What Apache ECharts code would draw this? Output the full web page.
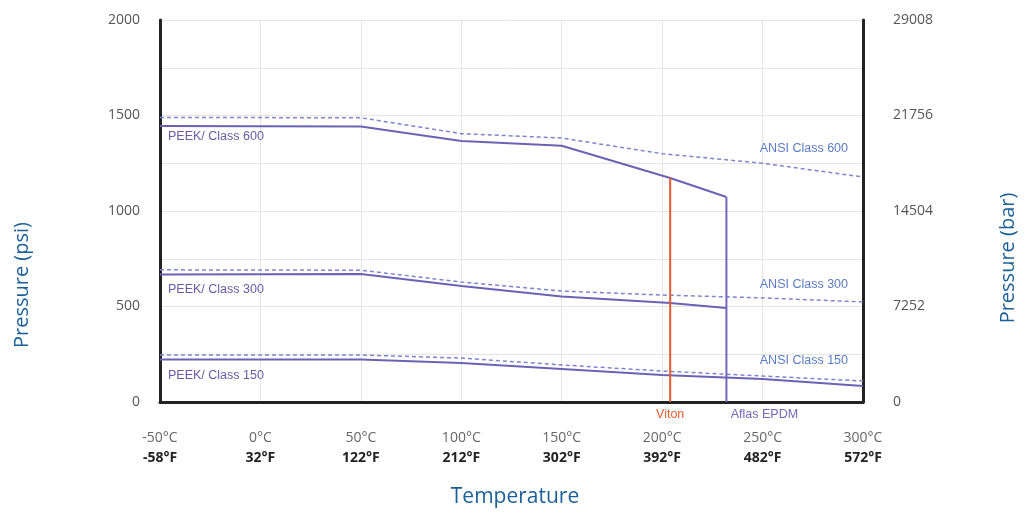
<!DOCTYPE html>
<html>
<head>
<meta charset="utf-8">
<script src="https://cdn.jsdelivr.net/npm/echarts@6/dist/echarts.min.js"></script>
<style>
html,body{margin:0;padding:0;background:#fff;}
#chart{width:1029px;height:514px;}
</style>
</head>
<body>
<div id="chart"></div>
<script>
// ---- data ----
const tempC = [-50, 0, 50, 100, 150, 200, 250, 300];
const tempF = ['-58°F', '32°F', '122°F', '212°F', '302°F', '392°F', '482°F', '572°F'];
const psiTicks = [0, 500, 1000, 1500, 2000];
const barTicks = ['0', '7252', '14504', '21756', '29008'];

const peek600T = [-50, 50, 100, 150, 204, 232];
const peek600P = [1445, 1442, 1366, 1342, 1173, 1073];
const ansi600T = [-50, 50, 100, 150, 200, 250, 300];
const ansi600P = [1490, 1488, 1405, 1382, 1300, 1250, 1178];

const peek300T = [-50, 50, 100, 150, 204, 232];
const peek300P = [668, 670, 607, 552, 518, 492];
const ansi300T = [-50, 50, 100, 150, 200, 250, 300];
const ansi300P = [692, 690, 628, 581, 560, 545, 524];

const peek150T = [-50, 50, 100, 150, 200, 250, 300];
const peek150P = [222, 222, 204, 173, 141, 120, 84];
const ansi150T = [-50, 50, 100, 150, 200, 250, 300];
const ansi150P = [246, 246, 230, 194, 162, 136, 110];

const vitonT = [204, 204];
const vitonP = [1173, 0];
const aflasT = [232, 232];
const aflasP = [1073, 0];

const names = {
  peek600: 'PEEK/ Class 600', peek300: 'PEEK/ Class 300', peek150: 'PEEK/ Class 150',
  ansi600: 'ANSI Class 600', ansi300: 'ANSI Class 300', ansi150: 'ANSI Class 150',
  viton: 'Viton', aflas: 'Aflas EPDM'
};

// ---- helpers ----
const zip = (t, p) => t.map((x, i) => [x, p[i]]);
const solidColor = '#6b62b5';
const dashColor = '#7c86cc';
const lblFont = '"Liberation Sans Narrow","Liberation Sans",sans-serif';
const lblSize = 12.5;

function withLabel(data, idx, label) {
  return data.map((d, i) => i === idx ? { value: d, label: Object.assign({ show: true }, label) } : { value: d });
}

function peekSeries(name, t, p, dy) {
  return {
    name, type: 'line', data: withLabel(zip(t, p), 0, {
      formatter: name, position: [8, dy], align: 'left', verticalAlign: 'top',
      color: '#6a5aa8', fontSize: lblSize, fontFamily: lblFont
    }),
    symbol: 'circle', symbolSize: 0, showSymbol: true, silent: true, z: 4,
    lineStyle: { color: solidColor, width: 2 }, itemStyle: { color: solidColor }
  };
}
function ansiSeries(name, t, p, dy) {
  return {
    name, type: 'line', data: withLabel(zip(t, p), t.length - 1, {
      formatter: name, position: [-15, dy], align: 'right', verticalAlign: 'middle',
      color: '#5a7cc4', fontSize: lblSize, fontFamily: lblFont
    }),
    symbol: 'circle', symbolSize: 0, showSymbol: true, silent: true, z: 3,
    lineStyle: { color: dashColor, width: 1.5, type: [4, 3] }, itemStyle: { color: dashColor }
  };
}
function vertSeries(name, t, p, color, dx) {
  return {
    name, type: 'line', data: withLabel(zip(t, p), 1, {
      formatter: name, position: [dx, 13], align: 'center', verticalAlign: 'middle',
      color: color, fontSize: lblSize, fontFamily: lblFont
    }),
    symbol: 'circle', symbolSize: 0, showSymbol: true, silent: true, z: 5, clip: false,
    lineStyle: { color: color, width: 2 }, itemStyle: { color: color }
  };
}

const chart = echarts.init(document.getElementById('chart'));
const titleColor = '#1b5f98';
chart.setOption({
  animation: false,
  backgroundColor: '#fff',
  grid: { left: 160, right: 166, top: 20, bottom: 112 },
  xAxis: {
    type: 'value', min: -50, max: 300, interval: 50,
    axisLine: { show: true, onZero: false, lineStyle: { color: '#222', width: 3 } },
    axisTick: { show: false },
    splitLine: { show: true, lineStyle: { color: '#e4e4e4', width: 1 } },
    axisLabel: {
      margin: 26,
      formatter: v => {
        const i = tempC.indexOf(v);
        return '{c|' + v + '°C}\n{f|' + tempF[i] + '}';
      },
      rich: {
        c: { fontSize: 14, color: '#666', lineHeight: 20, fontFamily: '"Open Sans",sans-serif' },
        f: { fontSize: 14, color: '#222', fontWeight: 'bold', lineHeight: 20, fontFamily: '"Open Sans",sans-serif' }
      }
    }
  },
  yAxis: [{
    type: 'value', min: psiTicks[0], max: psiTicks[psiTicks.length - 1], interval: 500,
    axisLine: { show: true, onZero: false, lineStyle: { color: '#222', width: 3 } },
    axisTick: { show: false },
    splitLine: { show: true, lineStyle: { color: '#e4e4e4', width: 1 } },
    minorTick: { show: false, splitNumber: 2 },
    minorSplitLine: { show: true, lineStyle: { color: '#e4e4e4', width: 1 } },
    axisLabel: { margin: 20, color: '#555', fontSize: 14, fontFamily: '"Open Sans",sans-serif',
      formatter: v => String(v) }
  }, {
    type: 'value', min: 0, max: 29008, interval: 7252, position: 'right',
    axisLine: { show: true, onZero: false, lineStyle: { color: '#222', width: 3 } },
    axisTick: { show: false },
    splitLine: { show: false },
    axisLabel: {
      margin: 30, color: '#555', fontSize: 14, fontFamily: '"Open Sans",sans-serif',
      formatter: v => barTicks[Math.round(v / 7252)]
    }
  }],
  graphic: [
    { type: 'text', x: 22, y: 285, rotation: Math.PI / 2,
      style: { text: 'Pressure (psi)', fill: titleColor, fontSize: 20, fontFamily: '"Open Sans",sans-serif', align: 'center', verticalAlign: 'middle' } },
    { type: 'text', x: 1008, y: 258, rotation: Math.PI / 2,
      style: { text: 'Pressure (bar)', fill: titleColor, fontSize: 20, fontFamily: '"Open Sans",sans-serif', align: 'center', verticalAlign: 'middle' } },
    { type: 'text', x: 515, y: 497,
      style: { text: 'Temperature', fill: titleColor, fontSize: 21, fontFamily: '"Open Sans",sans-serif', align: 'center', verticalAlign: 'middle' } }
  ],
  series: [
    ansiSeries(names.ansi600, ansi600T, ansi600P, -28),
    ansiSeries(names.ansi300, ansi300T, ansi300P, -17),
    ansiSeries(names.ansi150, ansi150T, ansi150P, -20),
    peekSeries(names.peek600, peek600T, peek600P, 4),
    peekSeries(names.peek300, peek300T, peek300P, 9),
    peekSeries(names.peek150, peek150T, peek150P, 9),
    vertSeries(names.viton, vitonT, vitonP, '#e35a2e', 0),
    vertSeries(names.aflas, aflasT, aflasP, '#7466b8', 38)
  ]
});
</script>
</body>
</html>
